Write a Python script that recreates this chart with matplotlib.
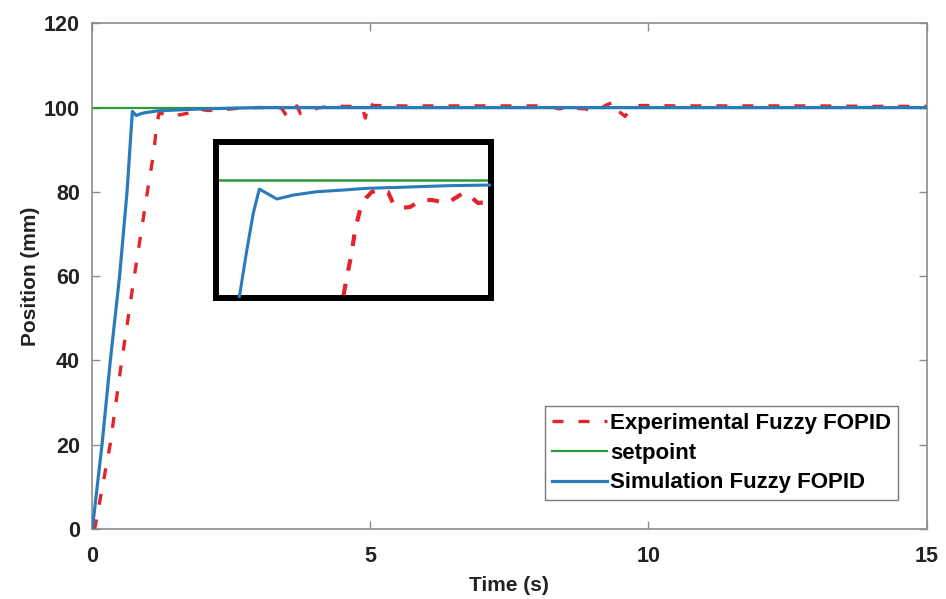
import matplotlib
matplotlib.use("Agg")
import matplotlib.pyplot as plt

plt.rcParams['font.family'] = ['Liberation Sans', 'DejaVu Sans']
plt.rcParams['font.weight'] = 'bold'

# ---------------- data ----------------
sim_t = [0, 0.174, 0.324, 0.49, 0.624, 0.72, 0.79, 0.86, 0.95, 1.06, 1.15, 1.28,
         1.47, 1.64, 2.0, 2.5, 3.0, 15]
sim_v = [0, 20, 40, 60, 80, 99.1, 98.1, 98.5, 98.8, 99.0, 99.2, 99.3,
         99.4, 99.5, 99.7, 99.85, 100, 100]

exp_t = [0, 0.05, 0.32, 0.53, 0.755, 0.99, 1.10, 1.16, 1.20, 1.27, 1.37, 1.48,
         1.58, 1.73, 1.82, 2.07, 2.25, 2.6, 3.0, 3.4, 3.5, 3.56, 3.68, 3.74,
         3.85, 3.97, 4.04, 4.3, 4.7, 4.86, 4.91, 4.96, 5.05, 5.5, 6.0, 6.5,
         7.0, 7.5, 8.0, 8.24, 8.39, 8.5, 8.6, 8.72, 8.87, 9.01, 9.12, 9.24,
         9.39, 9.43, 9.58, 9.7, 9.86, 10.5, 11, 12, 13, 14, 15]
exp_v = [0, 0.5, 20, 40, 60, 80, 89, 96, 98.7, 98.5, 97.8, 98.2,
         98.3, 98.7, 99.9, 99.3, 99.4, 99.8, 100, 99.9, 97.9, 99.5, 100.4, 98.6,
         99.0, 99.0, 99.9, 100.3, 100.3, 99.8, 97.5, 101.3, 100.5, 100.4, 100.4, 100.4,
         100.4, 100.4, 100.4, 100.2, 99.7, 99.9, 99.3, 99.8, 99.7, 98.9, 99.6, 100.6,
         101.4, 99.5, 97.9, 100.2, 100.5, 100.4, 100.4, 100.4, 100.4, 100.3, 100.3]

set_t = [0, 15]
set_v = [100, 100]

# zoomed-in view (inset)
ins_sim_t = [0.62, 0.641, 0.671, 0.697, 0.721, 0.791, 0.858, 0.951, 1.057,
             1.151, 1.284, 1.471, 1.644, 1.70]
ins_sim_v = [86, 88.3, 93, 96.7, 99.1, 98.1, 98.5, 98.83, 99.0,
             99.17, 99.27, 99.43, 99.5, 99.5]
ins_exp_t = [1.045, 1.057, 1.071, 1.091, 1.104, 1.124, 1.148, 1.171, 1.204,
             1.236, 1.256, 1.284, 1.324, 1.344, 1.384, 1.412, 1.452, 1.476,
             1.512, 1.536, 1.564, 1.596, 1.632, 1.664]
ins_exp_v = [86, 88.3, 90.3, 92.7, 95.0, 97.0, 98.2, 98.8, 99.0,
             98.8, 97.7, 97.2, 97.3, 97.6, 98.0, 98.0, 97.8, 97.75,
             98.3, 98.7, 98.4, 97.7, 97.8, 97.8]
ins_set_t = [0.5, 1.7]
ins_set_v = [100, 100]

x_ticks = [0, 5, 10, 15]
y_ticks = [0, 20, 40, 60, 80, 100, 120]

RED = '#e3242b'
GREEN = '#2f9a36'
BLUE = '#2b7bba'
SPINE = '#8c8c8c'
TXT = '#222222'

fig = plt.figure(figsize=(9.46, 5.99), dpi=100)
ax = fig.add_axes([0.0976, 0.1169, 0.9794 - 0.0976, 0.9611 - 0.1169])

ax.plot(exp_t, exp_v, color=RED, lw=2.4, linestyle=(0, (3.3, 4.5)),
        label='Experimental Fuzzy FOPID', zorder=3)
ax.plot(set_t, set_v, color=GREEN, lw=1.6, label='setpoint', zorder=2)
ax.plot(sim_t, sim_v, color=BLUE, lw=2.3, label='Simulation Fuzzy FOPID', zorder=4)

ax.set_xlim(0, 15)
ax.set_ylim(0, 120)
ax.set_xticks(x_ticks)
ax.set_yticks(y_ticks)
ax.tick_params(direction='in', length=6, width=1.0, color=SPINE,
               top=True, right=True, labelsize=15.5, labelcolor=TXT)
ax.tick_params(axis='x', pad=12)
ax.tick_params(axis='y', pad=9)
for lab in ax.get_xticklabels() + ax.get_yticklabels():
    lab.set_fontweight('bold')
for s in ax.spines.values():
    s.set_color(SPINE)
    s.set_linewidth(1.2)

ax.set_xlabel('Time (s)', fontsize=15, fontweight='bold', color=TXT, labelpad=7)
ax.set_ylabel('Position (mm)', fontsize=15, fontweight='bold', color=TXT, labelpad=3)

leg = ax.legend(loc='lower right', bbox_to_anchor=(0.966, 0.057),
                prop={'size': 16, 'weight': 'bold'}, frameon=True, fancybox=False,
                handlelength=2.5, handletextpad=0.15, labelspacing=0.4,
                borderpad=0.3, borderaxespad=0.0)
leg.get_frame().set_edgecolor('#555555')
leg.get_frame().set_linewidth(1.0)

# inset
ins = fig.add_axes([0.2287, 0.502, 0.290, 0.2614])
ins.plot(ins_exp_t, ins_exp_v, color=RED, lw=3.0, linestyle=(0, (2.8, 3.2)), zorder=3)
ins.plot(ins_set_t, ins_set_v, color=GREEN, lw=1.8, zorder=2)
ins.plot(ins_sim_t, ins_sim_v, color=BLUE, lw=2.2, zorder=4)
ins.set_xlim(0.549, 1.647)
ins.set_ylim(88.17, 103.83)
ins.set_xticks([])
ins.set_yticks([])
for s in ins.spines.values():
    s.set_color('black')
    s.set_linewidth(4.3)

fig.savefig('out.png', dpi=100)
